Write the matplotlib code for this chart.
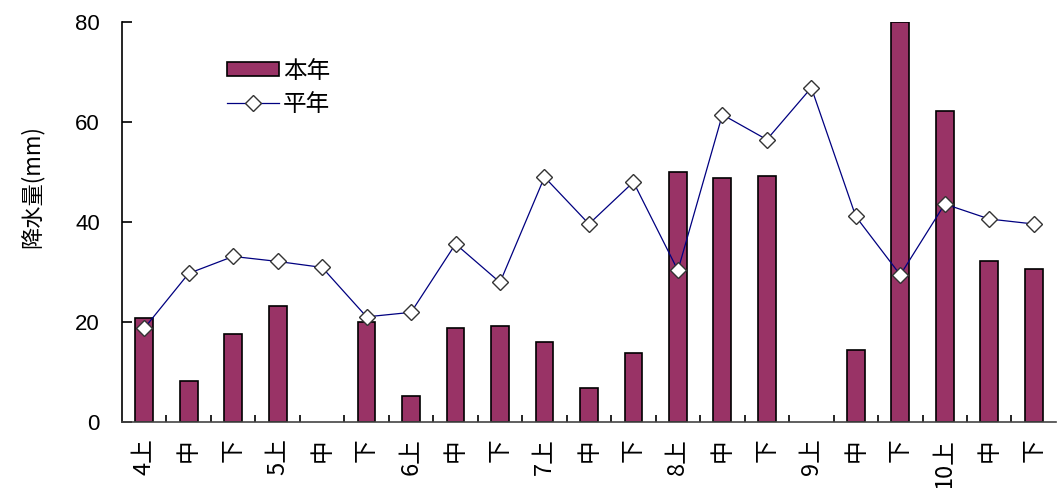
import numpy as np
import matplotlib
matplotlib.use("Agg")
import matplotlib.pyplot as plt
from matplotlib.ticker import FixedLocator

plt.rcParams['font.family'] = ['Noto Sans CJK SC', 'DejaVu Sans']

# ten-day periods, April to October
periods = ["4上", "中", "下", "5上", "中", "下", "6上", "中", "下", "7上", "中",
           "下", "8上", "中", "下", "9上", "中", "下", "10上", "中", "下"]

# this year's rainfall (mm)
this_year = [20.7, 8.2, 17.6, 23.2, 0, 19.9, 5.2, 18.7, 19.2, 16.0, 6.7,
             13.7, 50.1, 48.8, 49.3, 0, 14.4, 80.0, 62.3, 32.1, 30.5]
# normal-year rainfall (mm)
normal_year = [18.7, 29.7, 33.1, 32.1, 30.9, 21.0, 21.9, 35.6, 27.9, 49.0, 39.6,
               48.0, 30.3, 61.5, 56.5, 66.9, 41.1, 29.4, 43.6, 40.6, 39.6]

yticks = [0, 20, 40, 60, 80]

fig = plt.figure(figsize=(10.57, 4.88), dpi=100)
ax = fig.add_axes([0.1154, 0.1359, 0.8836, 0.8184])

x = np.arange(len(periods))
vals = np.array(this_year)
# zero-rain periods get no outline either
edges = ["black" if v > 0 else "none" for v in vals]
bars = ax.bar(x, vals, width=0.4, color="#993366", edgecolor=edges,
              linewidth=1.2, label="本年", zorder=2)
line, = ax.plot(x, normal_year, color="#000080", linewidth=0.9, marker="D",
                markersize=8.5, markerfacecolor="white", markeredgecolor="#333333",
                markeredgewidth=1.0, label="平年", zorder=3)

ax.set_xlim(-0.5, len(periods) - 0.5)
ax.set_ylim(0, 80)

# axis styling
for side in ["top", "right"]:
    ax.spines[side].set_visible(False)
ax.spines["left"].set_linewidth(1.2)
ax.spines["bottom"].set_linewidth(1.2)
ax.spines["bottom"].set_color("#444444")

ax.set_yticks(yticks)
ax.set_yticklabels([str(v) for v in yticks], fontsize=16, family="Liberation Sans")
ax.tick_params(axis="y", direction="in", length=7, width=1.2, pad=16)

ax.set_xticks(x)
ax.set_xticklabels(periods, rotation=90, fontsize=17, va="top", ha="center")
ax.tick_params(axis="x", which="major", length=0, pad=12)
ax.xaxis.set_minor_locator(FixedLocator(np.arange(0.5, len(periods) - 1, 1)))
ax.tick_params(axis="x", which="minor", direction="in", length=5, width=1.2)

fig.text(32 / 1057, 1 - 187 / 488, "降水量(mm)", rotation=90, fontsize=16,
         ha="center", va="center")

bar_handle = plt.Rectangle((0, 0), 1, 1, facecolor="#993366", edgecolor="black",
                           linewidth=1.2)
ax.legend([bar_handle, line], ["本年", "平年"], loc="upper left",
          bbox_to_anchor=(0.09, 0.96), frameon=False, fontsize=17,
          handlelength=2.2, handleheight=0.55, handletextpad=0.15,
          labelspacing=0.45)

fig.savefig("out.png", dpi=100)
